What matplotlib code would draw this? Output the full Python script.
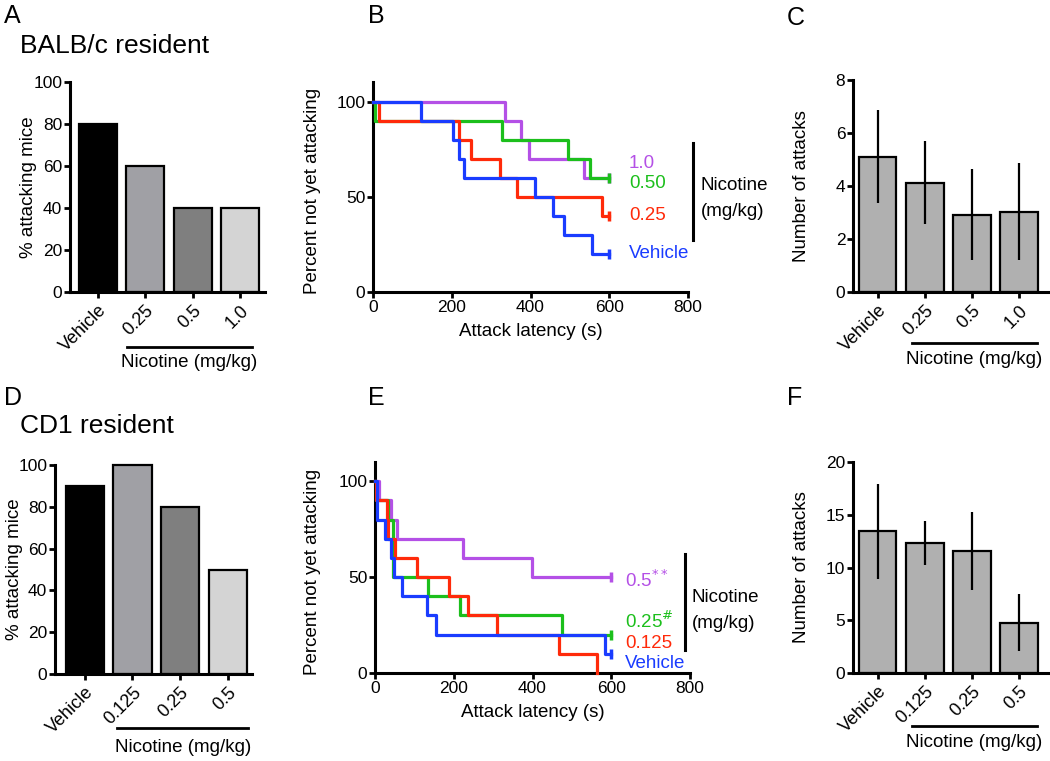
import matplotlib
matplotlib.use("Agg")
import matplotlib.pyplot as plt
import matplotlib.transforms as mtrans

plt.rcParams["font.family"] = ["Liberation Sans", "DejaVu Sans"]

# ---- data -------------------------------------------------------------
balb_groups = ["Vehicle", "0.25", "0.5", "1.0"]
balb_pct_attacking = [80, 60, 40, 40]
balb_attacks_mean = [5.1, 4.12, 2.92, 3.02]
balb_attacks_err = [1.75, 1.57, 1.73, 1.83]

cd1_groups = ["Vehicle", "0.125", "0.25", "0.5"]
cd1_pct_attacking = [90, 100, 80, 50]
cd1_attacks_mean = [13.45, 12.35, 11.52, 4.78]
cd1_attacks_err = [4.5, 2.1, 3.7, 2.7]

# survival curves (time in s, percent not yet attacking)
balb_veh_t = [0, 123, 203, 218, 231, 411, 457, 484, 556, 600]
balb_veh_s = [100, 90, 80, 70, 60, 50, 40, 30, 20, 20]
balb_025_t = [0, 14, 218, 248, 322, 366, 582, 600]
balb_025_s = [100, 90, 80, 70, 60, 50, 40, 40]
balb_050_t = [0, 5, 328, 495, 552, 600]
balb_050_s = [100, 90, 80, 70, 60, 60]
balb_100_t = [0, 334, 377, 396, 537, 600]
balb_100_s = [100, 90, 80, 70, 60, 60]

cd1_veh_t = [0, 4, 25, 40, 48, 68, 131, 155, 584, 600]
cd1_veh_s = [100, 80, 70, 60, 50, 40, 30, 20, 10, 10]
cd1_0125_t = [0, 2, 30, 33, 51, 107, 188, 235, 309, 467, 564]
cd1_0125_s = [100, 90, 80, 70, 60, 50, 40, 30, 20, 10, 0]
cd1_025_t = [0, 3, 33, 45, 135, 216, 474, 600]
cd1_025_s = [100, 90, 80, 50, 40, 30, 20, 20]
cd1_05_t = [0, 10, 40, 55, 224, 398, 600]
cd1_05_s = [100, 90, 80, 70, 60, 50, 50]

# ---- style ------------------------------------------------------------
W, H = 1050, 761
PURPLE = "#b450e6"
GREEN = "#1cbf1c"
RED = "#ff2a0a"
BLUE = "#1a3cff"
pct_colors = ["#000000", "#a0a0a5", "#7f7f7f", "#d4d4d4"]
attack_color = "#b0b0b0"
TICK_FS = 12.5
XROT_FS = 13
LAB_FS = 13.5

fig = plt.figure(figsize=(W / 100, H / 100), dpi=100)


def px_axes(left, top, right, bottom):
    return fig.add_axes([left / W, 1 - bottom / H, (right - left) / W, (bottom - top) / H])


def style(ax):
    for s in ["top", "right"]:
        ax.spines[s].set_visible(False)
    for s in ["left", "bottom"]:
        ax.spines[s].set_linewidth(2.2)
    ax.tick_params(width=2, length=4, labelsize=TICK_FS, direction="out", pad=1.5)


def bar_panel(ax, groups, vals, colors, err=None, ylim=100, yticks=None, xlim=(-0.6, 3.5),
              ylabel="", ylab_x=-0.17, line_x=(0.65, 3.35), line_y=-0.25, text_y=-0.33):
    x = list(range(len(groups)))
    ax.bar(x, vals, width=0.8, color=colors, edgecolor="black", linewidth=1.6, zorder=2,
           clip_on=False)
    if err is not None:
        ax.errorbar(x, vals, yerr=err, fmt="none", ecolor="black", elinewidth=1.6,
                    capsize=0, zorder=3)
    style(ax)
    ax.tick_params(axis="x", pad=3)
    ax.set_xlim(*xlim)
    ax.set_ylim(0, ylim)
    ax.set_yticks(yticks)
    ax.set_xticks(x)
    ax.set_xticklabels(groups, rotation=45, ha="right", rotation_mode="anchor",
                       fontsize=XROT_FS)
    ax.set_ylabel(ylabel, fontsize=LAB_FS)
    ax.yaxis.set_label_coords(ylab_x, 0.5)
    tr = mtrans.blended_transform_factory(ax.transData, ax.transAxes)
    ax.plot(line_x, [line_y, line_y], color="black", lw=2, transform=tr, clip_on=False)
    ax.text(sum(line_x) / 2, text_y, "Nicotine (mg/kg)", transform=tr, ha="center",
            va="center", fontsize=LAB_FS)


def surv_panel(ax, curves, ylim, ylab_x=-0.165):
    for t, s, c in curves:
        ax.step(t, s, where="post", color=c, lw=2.3, clip_on=False, zorder=3)
        if s[-1] > 0:
            ax.plot([t[-1]], [s[-1]], marker="|", color=c, ms=7, mew=2.5, zorder=3)
    style(ax)
    ax.set_xlim(0, 800)
    ax.set_ylim(0, ylim)
    ax.set_xticks([0, 200, 400, 600, 800])
    ax.set_yticks([0, 50, 100])
    ax.set_xlabel("Attack latency (s)", fontsize=LAB_FS, labelpad=6)
    ax.set_ylabel("Percent not yet attacking", fontsize=LAB_FS)
    ax.yaxis.set_label_coords(ylab_x, 0.48)


# ---- A ---------------------------------------------------------------
axA = px_axes(70, 82, 265, 292)
bar_panel(axA, balb_groups, balb_pct_attacking, pct_colors, ylim=100,
          yticks=[0, 20, 40, 60, 80, 100], xlim=(-0.59, 3.53),
          ylabel="% attacking mice", ylab_x=-0.17,
          line_x=(0.61, 3.26), line_y=-0.262, text_y=-0.335)

# ---- B ---------------------------------------------------------------
axB = px_axes(373, 82, 688, 292)
surv_panel(axB, [(balb_100_t, balb_100_s, PURPLE), (balb_050_t, balb_050_s, GREEN),
                 (balb_025_t, balb_025_s, RED), (balb_veh_t, balb_veh_s, BLUE)], 110.5,
           ylab_x=-0.165)

# ---- C ---------------------------------------------------------------
axC = px_axes(853, 80, 1048, 292)
bar_panel(axC, balb_groups, balb_attacks_mean, attack_color, err=balb_attacks_err, ylim=8,
          yticks=[0, 2, 4, 6, 8], xlim=(-0.52, 3.61), ylabel="Number of attacks",
          ylab_x=-0.22, line_x=(0.73, 3.38), line_y=-0.24, text_y=-0.32)

# ---- D ---------------------------------------------------------------
axD = px_axes(55, 465, 252, 674)
bar_panel(axD, cd1_groups, cd1_pct_attacking, pct_colors, ylim=100,
          yticks=[0, 20, 40, 60, 80, 100], xlim=(-0.62, 3.50),
          ylabel="% attacking mice", ylab_x=-0.162,
          line_x=(0.68, 3.42), line_y=-0.258, text_y=-0.35)

# ---- E ---------------------------------------------------------------
axE = px_axes(375, 462, 690, 673)
surv_panel(axE, [(cd1_05_t, cd1_05_s, PURPLE), (cd1_025_t, cd1_025_s, GREEN),
                 (cd1_0125_t, cd1_0125_s, RED), (cd1_veh_t, cd1_veh_s, BLUE)], 110,
           ylab_x=-0.171)

# ---- F ---------------------------------------------------------------
axF = px_axes(853, 462, 1048, 673)
bar_panel(axF, cd1_groups, cd1_attacks_mean, attack_color, err=cd1_attacks_err, ylim=20,
          yticks=[0, 5, 10, 15, 20], xlim=(-0.52, 3.61), ylabel="Number of attacks",
          ylab_x=-0.22, line_x=(0.73, 3.38), line_y=-0.25, text_y=-0.33)

# ---- legends beside survival curves ----------------------------------
def ftext(x, y, s, **kw):
    fig.text(x / W, 1 - y / H, s, va="center", **kw)


def fline(x, y0, y1):
    fig.add_artist(plt.Line2D([x / W, x / W], [1 - y0 / H, 1 - y1 / H], color="black", lw=2.2))


ftext(629, 163, "1.0", color=PURPLE, fontsize=LAB_FS)
ftext(629, 184, "0.50", color=GREEN, fontsize=LAB_FS)
ftext(629, 215, "0.25", color=RED, fontsize=LAB_FS)
ftext(629, 253, "Vehicle", color=BLUE, fontsize=LAB_FS)
fline(693, 143, 240)
ftext(701, 185, "Nicotine", fontsize=LAB_FS)
ftext(701, 211, "(mg/kg)", fontsize=LAB_FS)

ftext(625, 580, "0.5$^{**}$", color=PURPLE, fontsize=LAB_FS)
ftext(625, 621, "0.25$^{\\#}$", color=GREEN, fontsize=LAB_FS)
ftext(625, 643, "0.125", color=RED, fontsize=LAB_FS)
ftext(625, 663, "Vehicle", color=BLUE, fontsize=LAB_FS)
fline(685, 554, 650)
ftext(692, 597, "Nicotine", fontsize=LAB_FS)
ftext(692, 623, "(mg/kg)", fontsize=LAB_FS)

# ---- panel letters and titles ----------------------------------------
for letter, x, y in [("A", 4, 16), ("B", 368, 16), ("C", 787, 18),
                     ("D", 4, 398), ("E", 368, 398), ("F", 787, 398)]:
    ftext(x, y, letter, fontsize=18)
ftext(20, 46, "BALB/c resident", fontsize=19)
ftext(20, 426, "CD1 resident", fontsize=19)

fig.savefig("out.png", dpi=100)
